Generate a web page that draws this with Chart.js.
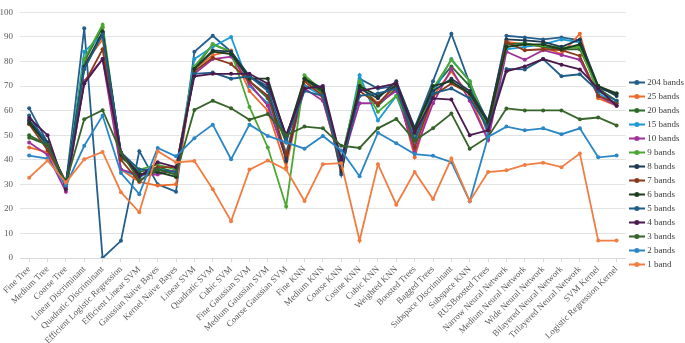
<!DOCTYPE html>
<html>
<head>
<meta charset="utf-8">
<script src="https://cdn.jsdelivr.net/npm/chart.js@4/dist/chart.umd.min.js"></script>
<style>
    html, body { margin: 0; padding: 0; background: #fff; }
    .wrap { position: relative; width: 685px; height: 343px; }
</style>
</head>
<body>
<div class="wrap"><canvas id="chart"></canvas></div>
<script>
/* global Chart */
const categories = [
    'Fine Tree', 'Medium Tree', 'Coarse Tree', 'Linear Discriminant', 'Quadratic Discriminant',
    'Efficient Logistic Regression', 'Efficient Linear SVM', 'Gaussian Naive Bayes', 'Kernel Naive Bayes',
    'Linear SVM', 'Quadratic SVM', 'Cubic SVM', 'Fine Gaussian SVM', 'Medium Gaussian SVM',
    'Coarse Gaussian SVM', 'Fine KNN', 'Medium KNN', 'Coarse KNN', 'Cosine KNN', 'Cubic KNN',
    'Weighted KNN', 'Boosted Trees', 'Bagged Trees', 'Subspace Discriminant', 'Subspace KNN',
    'RUSBoosted Trees', 'Narrow Neural Network', 'Medium Neural Network', 'Wide Neural Network',
    'Bilayered Neural Network', 'Trilayered Neural Network', 'SVM Kernel', 'Logistic Regression Kernel'
];

const yTicks = [0, 10, 20, 30, 40, 50, 60, 70, 80, 90, 100];

const bands204 = [61, 47, 30, 93.5, 0, 7, 43.5, 30, 27, 84, 90.5, 84, 74, 70, 50, 70, 69, 34, 73, 69, 70, 53, 72, 91.3, 71, 55, 90.5, 89.8, 89, 89.8, 88.6, 69, 67];
const bands25 = [45, 43, 30, 79, 89, 36, 31, 29.5, 30, 77, 82.5, 84.5, 68, 60, 37, 72, 65, 36, 70, 63, 70, 41, 66, 76, 66, 48, 88, 87, 86, 83, 91.3, 65, 62];
const bands20 = [50, 46, 30, 80, 94, 41, 35, 37, 35, 77, 87, 84, 72, 65, 47, 73, 67, 40, 71, 62, 69, 50, 69, 78, 70, 54, 87, 87.5, 86, 85, 85, 69, 64];
const bands15 = [56, 45, 29, 84, 91, 36, 33, 36, 35, 81, 86, 90, 70, 63, 43, 70, 66, 38, 74.4, 56, 66, 47, 67, 81, 72, 50, 85, 86, 87, 89, 87.8, 67, 63];
const bands10 = [47, 42, 27, 72, 81, 36, 34, 34, 36, 75, 81, 82, 71, 62, 40.5, 69, 64, 38, 63, 63, 68, 43, 63, 77, 64, 48, 84, 80.7, 84.6, 82.7, 80.7, 66, 62];
const bands9 = [55, 47, 30, 81, 95, 42, 36, 38, 36, 78, 87, 84, 61.5, 45, 21, 74.4, 68, 40, 72, 59.5, 66, 50, 69, 80.7, 72, 53, 86, 87, 86.5, 85.8, 86, 68, 64];
const bands8 = [56, 47, 30, 78, 92, 43, 34, 36, 34, 77, 84.5, 84, 74, 69, 39.5, 73, 69, 35, 69, 65, 72, 53, 68, 73, 68, 56, 89, 88.6, 88, 86, 89, 70, 66];
const bands7 = [54.5, 44, 30.5, 71, 85, 40, 31, 37, 37, 76, 81.5, 79, 72, 66, 42, 72, 66, 37, 68, 62.6, 71, 45, 66, 71, 67, 52, 88, 84.6, 85, 84.6, 82.3, 66, 63];
const bands6 = [55, 46, 31, 77, 92, 42, 34, 35, 33, 77, 84, 83, 73, 73, 49, 73, 68, 39, 70, 66, 70, 52, 70, 72, 67, 55, 86, 87, 87, 85, 87, 70, 67];
const bands5 = [58, 46, 30, 77, 91, 43, 36, 36, 35, 75, 75.5, 73, 74, 68, 48, 68, 66, 38, 66, 67, 69, 48, 67, 69, 65, 53, 77, 76.8, 81, 74, 74.8, 68, 64];
const bands4 = [57, 50, 28, 71, 81, 43, 33, 39, 37, 74, 75, 75, 75, 71, 50, 69, 70, 40, 68, 69.5, 71, 51, 65, 64.5, 50, 52, 76, 78, 81, 78.7, 76.8, 69, 62];
const bands3 = [49, 46, 30.5, 56.5, 60.2, 43, 31.5, 36, 34, 60.3, 64, 61, 56.3, 58.6, 50, 53.5, 52.8, 45.7, 44.8, 52.8, 56.6, 47.8, 52.8, 58.8, 44.5, 49.3, 60.9, 60.1, 60.1, 60.1, 56.5, 57.2, 54];
const bands2 = [41.7, 40.5, 29.5, 45.7, 58, 34.6, 26, 44.8, 41.4, 48.8, 54.3, 40.2, 54.3, 49.7, 47.1, 44.5, 49.7, 43.8, 33.3, 51, 46.7, 42.3, 41.6, 39, 23.1, 49.3, 53.5, 52, 52.8, 50.4, 52.8, 41, 41.7];
const bands1 = [32.7, 39.7, 30.7, 40.2, 43.2, 26.8, 18.6, 43.5, 39, 39.5, 28, 15, 36, 39.7, 36, 23.2, 38.2, 38.6, 7.1, 38.2, 21.7, 35, 24, 40.5, 23.2, 35, 35.7, 37.9, 38.8, 37, 42.5, 7.1, 7.1];

const seriesNames = ['204 bands', '25 bands', '20 bands', '15 bands', '10 bands', '9 bands', '8 bands',
    '7 bands', '6 bands', '5 bands', '4 bands', '3 bands', '2 bands', '1 band'];
const seriesValues = [bands204, bands25, bands20, bands15, bands10, bands9, bands8,
    bands7, bands6, bands5, bands4, bands3, bands2, bands1];
const seriesColors = ['#245F8C', '#EC6A2E', '#2D6A2A', '#1B9AD6', '#A1309A', '#4CA832', '#1F3A52',
    '#8A3A1C', '#1C3C20', '#1F5C87', '#4A1A4E', '#36632A', '#2A86C4', '#F07D42'];

const FONT = "'Liberation Serif', 'Times New Roman', serif";

// small line + dot swatch used as the legend marker
function makeSwatch(color) {
    const c = document.createElement('canvas');
    c.width = 16;
    c.height = 7;
    const ctx = c.getContext('2d');
    ctx.strokeStyle = color;
    ctx.lineWidth = 2;
    ctx.beginPath();
    ctx.moveTo(0, 3.5);
    ctx.lineTo(16, 3.5);
    ctx.stroke();
    ctx.fillStyle = color;
    ctx.beginPath();
    ctx.arc(8, 3.5, 2.5, 0, Math.PI * 2);
    ctx.fill();
    return c;
}

const datasets = seriesNames.map((name, i) => ({
    label: name,
    data: seriesValues[i],
    borderColor: seriesColors[i],
    backgroundColor: seriesColors[i],
    pointBackgroundColor: seriesColors[i],
    pointBorderColor: seriesColors[i],
    borderWidth: 1.8,
    pointRadius: 2,
    pointBorderWidth: 0,
    tension: 0,
    fill: false,
    order: seriesNames.length - i,
}));

const swatches = seriesColors.map(makeSwatch);

new Chart(document.getElementById('chart').getContext('2d'), {
    type: 'line',
    data: { labels: categories, datasets: datasets },
    options: {
        responsive: true,
        maintainAspectRatio: false,
        animation: false,
        devicePixelRatio: 1,
        layout: { padding: { top: 4, right: -9, bottom: 0, left: 0 } },
        plugins: {
            tooltip: { enabled: false },
            legend: {
                position: 'right',
                labels: {
                    usePointStyle: true,
                    pointStyleWidth: 12,
                    boxHeight: 9,
                    padding: 5,
                    color: '#404040',
                    font: { family: FONT, size: 9 },
                    generateLabels: (chart) => chart.data.datasets.map((ds, i) => ({
                        text: ds.label,
                        fillStyle: ds.borderColor,
                        strokeStyle: ds.borderColor,
                        fontColor: '#404040',
                        lineWidth: 0,
                        pointStyle: swatches[i],
                        hidden: false,
                        datasetIndex: i,
                    })),
                },
            },
        },
        scales: {
            x: {
                offset: true,
                grid: { display: true, drawOnChartArea: false, drawTicks: true, tickLength: 4, color: '#d9d9d9' },
                border: { display: true, color: '#d9d9d9' },
                ticks: {
                    autoSkip: false,
                    maxRotation: 45,
                    minRotation: 45,
                    padding: 2,
                    color: '#595959',
                    font: { family: FONT, size: 9 },
                },
                afterFit: (scale) => { scale.height = 85; },
            },
            y: {
                min: yTicks[0],
                max: yTicks[yTicks.length - 1],
                grid: { color: '#e2e2e2', lineWidth: 1, drawTicks: false },
                border: { display: false },
                ticks: {
                    stepSize: 10,
                    padding: 7,
                    color: '#595959',
                    font: { family: FONT, size: 9 },
                },
                afterBuildTicks: (scale) => { scale.ticks = yTicks.map(v => ({ value: v })); },
                afterFit: (scale) => { scale.width = 20; },
            },
        },
    },
});
</script>
</body>
</html>
